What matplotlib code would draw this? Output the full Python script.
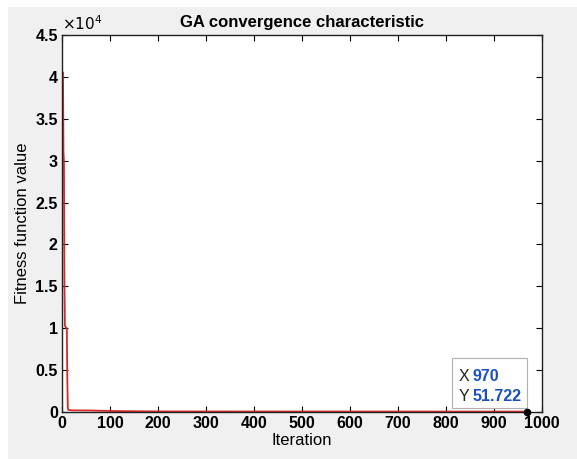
import matplotlib.pyplot as plt
from matplotlib.patches import Rectangle

plt.rcParams['font.family'] = ['Liberation Sans', 'DejaVu Sans']

# best fitness per generation
iterations = [2, 3, 4, 5, 6, 7, 8, 10, 11, 12, 13, 20, 60, 100, 150, 200, 400, 600, 800, 970]
fitness = [40500, 31000, 30000, 16000, 10300, 10200, 10100, 10000, 4000, 600, 250,
           200, 180, 120, 90, 70, 60, 55, 52, 51.722]

x_ticks = [0, 100, 200, 300, 400, 500, 600, 700, 800, 900, 1000]
y_ticks = [0, 5000, 10000, 15000, 20000, 25000, 30000, 35000, 40000, 45000]
y_labels = ['0', '0.5', '1', '1.5', '2', '2.5', '3', '3.5', '4', '4.5']

tip_x = 970
tip_y = 51.722

fig = plt.figure(figsize=(5.77, 4.59), dpi=100, facecolor='white')
fig.patches.append(Rectangle((0.014, 0.0), 0.986, 0.985, transform=fig.transFigure,
                             facecolor='#f0f0f0', edgecolor='none', zorder=-10))
ax = fig.add_axes([0.1075, 0.1024, 0.8315, 0.8213])

ax.plot(iterations, fitness, color='#d42a2a', linewidth=1.3)
ax.plot([tip_x], [tip_y], 'o', color='black', markersize=4.5, zorder=8, clip_on=False)

ax.set_xlim(0, 1000)
ax.set_ylim(0, 45000)
ax.set_xticks(x_ticks)
ax.set_yticks(y_ticks)
ax.set_yticklabels(y_labels)
ax.tick_params(direction='in', length=4, width=0.8, top=True, right=True,
               labelsize=11.5, pad=3, colors='black')
for lab in ax.get_xticklabels() + ax.get_yticklabels():
    lab.set_fontweight('bold')
for s in ax.spines.values():
    s.set_linewidth(1.0)
    s.set_color('#202020')

ax.text(0.0, 1.005, r'$\times10^4$', transform=ax.transAxes, fontsize=11,
        ha='left', va='bottom', fontweight='bold')

ax.set_title('GA convergence characteristic', fontsize=12, fontweight='bold', pad=6)
ax.set_xlabel('Iteration', fontsize=12, labelpad=1)
ax.set_ylabel('Fitness function value', fontsize=12, labelpad=4)

# data tip
box = Rectangle((812, 450), 157, 6000, facecolor='white', edgecolor='#b0b0b0',
                linewidth=0.8, zorder=6)
ax.add_patch(box)
ax.text(826, 4180, 'X', fontsize=11.5, color='#202020', zorder=7, va='center')
ax.text(856, 4180, f'{tip_x}', fontsize=11.5, color='#1a4fc4', fontweight='bold',
        zorder=7, va='center')
ax.text(826, 1900, 'Y', fontsize=11.5, color='#202020', zorder=7, va='center')
ax.text(856, 1900, f'{tip_y}', fontsize=11.5, color='#1a4fc4', fontweight='bold',
        zorder=7, va='center')

fig.savefig('out.png', dpi=100, facecolor=fig.get_facecolor())
